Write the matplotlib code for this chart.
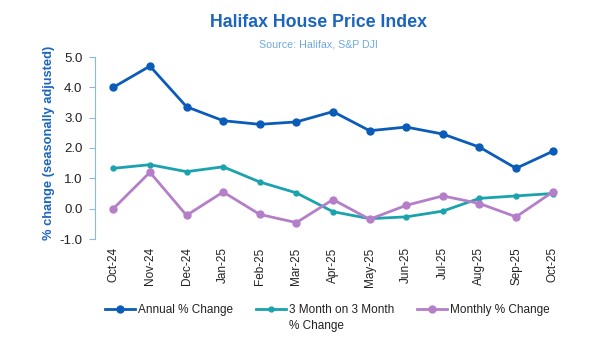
import numpy as np
import matplotlib.pyplot as plt

plt.rcParams['font.family'] = ['Liberation Sans', 'DejaVu Sans']

# Data
months = ['Oct-24', 'Nov-24', 'Dec-24', 'Jan-25', 'Feb-25', 'Mar-25', 'Apr-25',
          'May-25', 'Jun-25', 'Jul-25', 'Aug-25', 'Sep-25', 'Oct-25']
annual = [4.0, 4.7, 3.36, 2.9, 2.78, 2.86, 3.2, 2.57, 2.69, 2.46, 2.03, 1.33, 1.89]
three_month = [1.33, 1.45, 1.22, 1.38, 0.88, 0.52, -0.1, -0.33, -0.27, -0.08, 0.34, 0.42, 0.5]
monthly = [0.0, 1.2, -0.22, 0.55, -0.19, -0.46, 0.3, -0.35, 0.11, 0.42, 0.17, -0.27, 0.55]

c_annual = '#0b5cb8'
c_three = '#1aa3ad'
c_month = '#b47fc8'
c_title = '#1b64c0'

fig = plt.figure(figsize=(6.13, 3.51), dpi=100)
ax = fig.add_axes([95 / 613, 1 - 239 / 351, (571 - 95) / 613, (239 - 57) / 351])

x = np.arange(len(months))
ax.plot(x, annual, color=c_annual, lw=2, marker='o', ms=5, label='Annual % Change')
ax.plot(x, three_month, color=c_three, lw=2, marker='o', ms=3.5,
        label='3 Month on 3 Month')
ax.plot(x, monthly, color=c_month, lw=2, marker='o', ms=5, label='Monthly % Change')

ax.set_xlim(-0.5, len(months) - 0.5)
ax.set_ylim(-1.0, 5.0)
ax.set_yticks(np.arange(-1.0, 5.01, 1.0))
ax.set_yticklabels([f'{v:.1f}' for v in np.arange(-1.0, 5.01, 1.0)])
ax.set_xticks(x)
ax.set_xticklabels(months, rotation=90)

for s in ['top', 'right', 'bottom']:
    ax.spines[s].set_visible(False)
ax.spines['left'].set_color('#8ab8ea')
ax.tick_params(axis='y', colors='#8ab8ea', labelcolor='#222222', labelsize=9.5,
               length=4, pad=5)
ax.tick_params(axis='x', length=0, labelsize=8.5, labelcolor='#222222', pad=6)

ax.set_ylabel('% change (seasonally adjusted)', color=c_title, fontsize=9.3,
              fontweight='bold')
ax.yaxis.set_label_coords(-0.085, 0.53)

fig.text(0.52, 0.935, 'Halifax House Price Index', ha='center', va='center',
         fontsize=12.8, fontweight='bold', color=c_title)
fig.text(0.52, 0.872, 'Source: Halifax, S&P DJI', ha='center', va='center',
         fontsize=7.7, color='#6fa8e6')

leg = fig.legend(loc='center', bbox_to_anchor=(0.534, 1 - 310 / 351), ncol=3,
                 frameon=False, fontsize=8.5, handlelength=2.5, handletextpad=0.25,
                 columnspacing=2.0)

# second line of the wrapped legend label, under the first line
fig.canvas.draw()
bb = leg.get_texts()[1].get_window_extent().transformed(fig.transFigure.inverted())
fig.text(bb.x0, bb.y0 - 0.012, '% Change', ha='left', va='top', fontsize=8.5,
         color='#222222')
for t in leg.get_texts():
    t.set_color('#222222')

fig.savefig('out.png', dpi=100)
